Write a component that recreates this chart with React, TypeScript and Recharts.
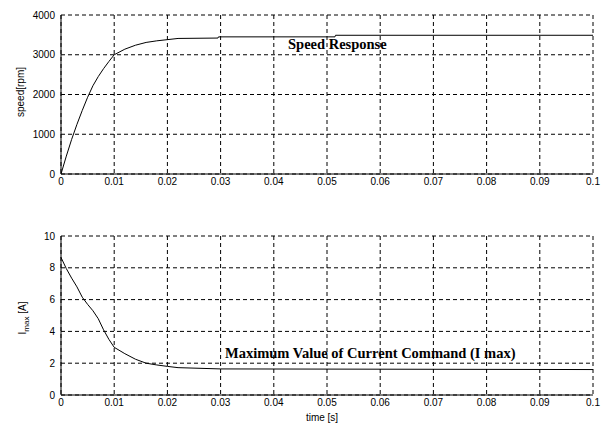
import React from 'react';
import { LineChart, Line, XAxis, YAxis, CartesianGrid } from 'recharts';

// speed response samples
const speedTime = [0, 0.001, 0.002, 0.003, 0.004, 0.005, 0.006, 0.007, 0.008, 0.009, 0.01, 0.012, 0.014, 0.016, 0.018, 0.02, 0.022, 0.0295, 0.0296, 0.0515, 0.0516, 0.1];
const speedValues = [0, 450, 870, 1250, 1600, 1930, 2220, 2450, 2650, 2830, 3000, 3140, 3240, 3310, 3350, 3380, 3410, 3420, 3450, 3450, 3490, 3490];

// max current command samples
const currentTime = [0, 0.001, 0.002, 0.003, 0.004, 0.005, 0.006, 0.007, 0.008, 0.009, 0.01, 0.012, 0.014, 0.016, 0.018, 0.02, 0.022, 0.03, 0.1];
const currentValues = [8.65, 7.95, 7.35, 6.8, 6.15, 5.7, 5.3, 4.8, 4.1, 3.5, 3.0, 2.6, 2.25, 2.0, 1.89, 1.8, 1.72, 1.64, 1.6];

const timeTicks = [0, 0.01, 0.02, 0.03, 0.04, 0.05, 0.06, 0.07, 0.08, 0.09, 0.1];
const timeTickLabels = ['0', '0.01', '0.02', '0.03', '0.04', '0.05', '0.06', '0.07', '0.08', '0.09', '0.1'];
const speedTicks = [0, 1000, 2000, 3000, 4000];
const currentTicks = [0, 2, 4, 6, 8, 10];

const speedData = speedTime.map((t, i) => ({ t, v: speedValues[i] }));
const currentData = currentTime.map((t, i) => ({ t, v: currentValues[i] }));

const tickStyle = { fontSize: 10, fill: '#000', fontFamily: 'Liberation Sans, Arial, sans-serif' };
const serifBold: React.CSSProperties = {
  position: 'absolute',
  fontFamily: '"Liberation Serif", "Times New Roman", serif',
  fontWeight: 'bold',
  fontSize: 14.5,
  color: '#000',
  whiteSpace: 'nowrap',
  lineHeight: '15px',
};
const sans: React.CSSProperties = {
  position: 'absolute',
  fontFamily: 'Liberation Sans, Arial, sans-serif',
  fontSize: 10,
  color: '#000',
  whiteSpace: 'nowrap',
};

function Panel({ data, yTicks, yMax }: { data: { t: number; v: number }[]; yTicks: number[]; yMax: number }) {
  return (
    <LineChart width={608} height={205} data={data} margin={{ top: 15, right: 15, left: 11, bottom: 11 }}>
      <CartesianGrid stroke="#000" strokeDasharray="4 3" />
      <XAxis
        dataKey="t"
        type="number"
        domain={[0, 0.1]}
        ticks={timeTicks}
        tickFormatter={(v: number) => timeTickLabels[timeTicks.indexOf(v)] ?? ''}
        tick={tickStyle}
        tickLine={false}
        tickSize={2}
        axisLine={{ stroke: '#000' }}
        height={20}
        interval={0}
      />
      <XAxis xAxisId="top" orientation="top" type="number" domain={[0, 0.1]} tick={false} tickLine={false} axisLine={{ stroke: '#000' }} height={0} />
      <YAxis
        type="number"
        domain={[0, yMax]}
        ticks={yTicks}
        tick={tickStyle}
        tickLine={false}
        tickSize={4}
        axisLine={{ stroke: '#000' }}
        width={50}
        interval={0}
      />
      <YAxis yAxisId="right" orientation="right" domain={[0, yMax]} tick={false} tickLine={false} axisLine={{ stroke: '#000' }} width={0} />
      <Line dataKey="v" type="linear" stroke="#000" strokeWidth={1} dot={false} isAnimationActive={false} />
    </LineChart>
  );
}

export default function App() {
  return (
    <div style={{ position: 'absolute', left: 0, top: 0, width: 608, height: 427, background: '#fff' }}>
      <div style={{ position: 'absolute', left: 0, top: 0 }}>
        <Panel data={speedData} yTicks={speedTicks} yMax={4000} />
      </div>
      <div style={{ position: 'absolute', left: 0, top: 221 }}>
        <Panel data={currentData} yTicks={currentTicks} yMax={10} />
      </div>
      <div style={{ ...serifBold, left: 288, top: 37 }}>Speed Response</div>
      <div style={{ ...serifBold, left: 225, top: 346 }}>Maximum Value of Current Command (I max)</div>
      <div style={{ ...sans, left: 20, top: 92, transform: 'translate(-50%, -50%) rotate(-90deg)' }}>speed[rpm]</div>
      <div style={{ ...sans, left: 24, top: 318, transform: 'translate(-50%, -50%) rotate(-90deg)' }}>
        I<sub style={{ fontSize: 8 }}>max</sub> [A]
      </div>
      <div style={{ ...sans, left: 322, top: 417, transform: 'translate(-50%, -50%)' }}>time [s]</div>
    </div>
  );
}
